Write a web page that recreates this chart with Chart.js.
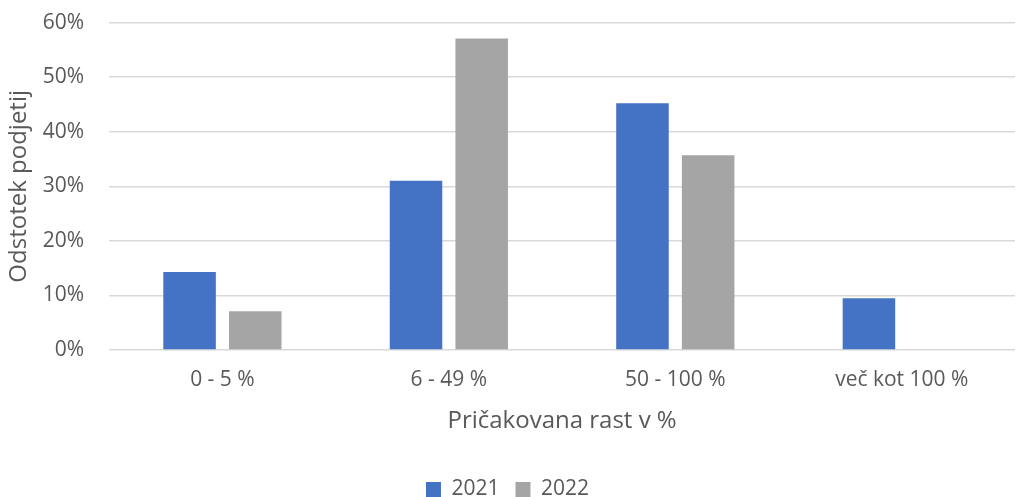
<!DOCTYPE html>
<html>
<head>
<meta charset="utf-8">
<script src="https://cdn.jsdelivr.net/npm/chart.js@4"></script>
<style>
  html, body { margin: 0; padding: 0; background: #fff; }
  #wrap { width: 1025px; height: 497px; }
</style>
</head>
<body>
<div id="wrap"><canvas id="chart"></canvas></div>
<script>
const categories = ['0 - 5 %', '6 - 49 %', '50 - 100 %', 'več kot 100 %'];
const values2021 = [14.3, 31.0, 45.2, 9.5];
const values2022 = [7.1, 57.1, 35.7, 0];
const yTicks = [0, 10, 20, 30, 40, 50, 60];

const textColor = '#595959';
const font = { family: '"Open Sans", sans-serif', size: 21 };
const titleFont = { family: '"Open Sans", sans-serif', size: 24 };

new Chart(document.getElementById('chart'), {
    type: 'bar',
    data: {
        labels: categories,
        datasets: [
            { label: '2021', data: values2021, backgroundColor: '#4472C4' },
            { label: '2022', data: values2022, backgroundColor: '#A5A5A5' }
        ]
    },
    options: {
        responsive: true,
        maintainAspectRatio: false,
        animation: false,
        datasets: { bar: { categoryPercentage: 0.58, barPercentage: 0.8 } },
        layout: { padding: { left: 0, right: 10, top: 0, bottom: -13 } },
        plugins: {
            tooltip: { enabled: false },
            legend: {
                position: 'bottom',
                labels: { color: textColor, font: font, boxWidth: 15, boxHeight: 15, padding: 16 }
            }
        },
        scales: {
            x: {
                grid: { display: false },
                border: { display: false },
                ticks: { color: textColor, font: font, padding: 9 },
                title: { display: true, text: 'Pričakovana rast v %', color: textColor, font: titleFont, padding: { top: 6, bottom: 27 } }
            },
            y: {
                min: 0, max: 60,
                afterBuildTicks: axis => { axis.ticks = yTicks.map(v => ({ value: v })); },
                grid: { color: '#d9d9d9', lineWidth: 1.5, drawTicks: true, tickLength: 15, tickColor: 'transparent' },
                border: { display: false },
                ticks: { color: textColor, font: font, padding: 10, callback: v => v + '%' },
                title: { display: true, text: 'Odstotek podjetij', color: textColor, font: titleFont, padding: { top: 5, bottom: -1 } }
            }
        }
    }
});
</script>
</body>
</html>
